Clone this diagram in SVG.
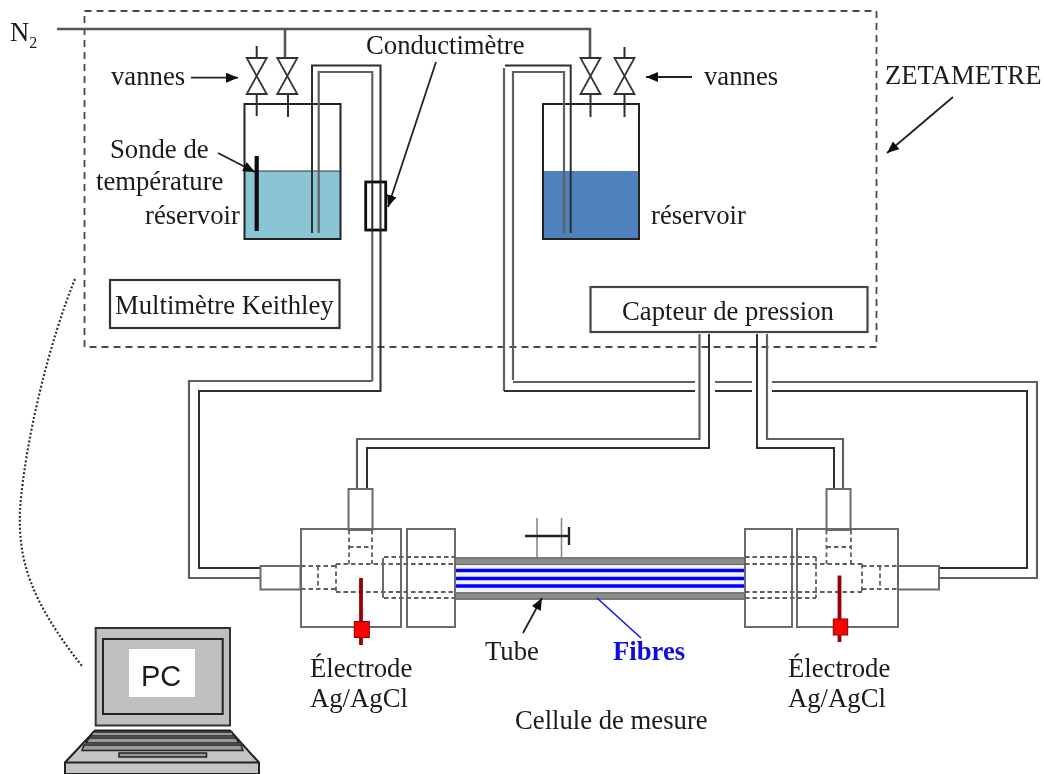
<svg xmlns="http://www.w3.org/2000/svg" width="1044" height="774" viewBox="0 0 1044 774">
<style>
text{font-family:"Liberation Serif","Times New Roman",serif;font-size:26.7px;fill:#1a1a1a}
.l{fill:none;stroke:#2e2e2e;stroke-width:2}
.g{fill:none;stroke:#555;stroke-width:2.6}
.b{fill:none;stroke:#606060;stroke-width:2.2}
.c{fill:none;stroke:#6a6a6a;stroke-width:2}
.d{fill:none;stroke:#606060;stroke-width:1.800;stroke-dasharray:4.500 3}
.k{fill:none;stroke:#222;stroke-width:2}
.v{fill:#fff;stroke:#333;stroke-width:1.800}
.a{fill:none;stroke:#222;stroke-width:1.800;marker-end:url(#ah)}
.blue{fill:none;stroke:#00f;stroke-width:3.400}
.key{fill:#9a9a9a;stroke:#222;stroke-width:1.500}
</style>
<defs>
<marker id="ah" markerUnits="userSpaceOnUse" markerWidth="14" markerHeight="12" refX="12" refY="5" orient="auto"><path d="M0 0L12 5L0 10Z" fill="#111"/></marker>
<path id="valve" class="v" d="M-10 0H10L-10 36H10Z"/>
<filter id="soft" x="-2%" y="-2%" width="104%" height="104%"><feGaussianBlur stdDeviation="0.500"/></filter>
</defs>
<rect width="1044" height="774" fill="#fff"/>
<g filter="url(#soft)">
<g id="zetametre-frame"><rect x="84.500" y="11" width="792" height="336" fill="none" stroke="#4a4a4a" stroke-width="1.800" stroke-dasharray="7 5"/></g>
<g id="reservoir-gauche">
<rect x="244.500" y="171" width="96" height="68" fill="#8AC5D6"/>
<rect x="244.500" y="104" width="96" height="135" class="k"/>
<path d="M244.500 171H340.500" stroke="#333" stroke-width="1"/>
</g>
<g id="reservoir-droit">
<rect x="543" y="171" width="96" height="68" fill="#4F81BD"/>
<rect x="543" y="104" width="96" height="135" class="k"/>
</g>
<g id="sonde"><path d="M256.700 156V231" stroke="#111" stroke-width="4.200" fill="none"/></g>
<g id="connectors">
<path class="g" d="M57 29H590V58"/>
<path class="g" d="M285 30V58"/>
<path class="l" d="M256.700 46V58M256.700 94V116M288 94V117M590.500 94V117M624.500 47V58M624.500 94V117"/>
<path class="l" d="M312 233V65.500H380.500V381"/>
<path class="b" d="M318.700 233V72H372.300V381"/>
<path class="b" d="M372.300 381H189V578H260"/>
<path class="l" d="M380.500 381V391H199V568H260"/>
<path class="l" d="M505 65.500H570.700V233"/>
<path class="b" d="M513 380V72H564V233"/>
<path class="b" d="M504 68V391"/>
<path class="b" d="M513 382H695M715 382H752M772 382H1037V578H940"/>
<path class="l" d="M504 391H695M715 391H752M772 391H1027V568H940"/>
<path class="b" d="M699.500 334V439H357V489"/>
<path class="l" d="M709 334V448H367V489"/>
<path class="l" d="M757 334V448H834V489"/>
<path class="b" d="M767 334V439H843V489"/>
</g>
<g id="valves">
<use href="#valve" x="256.700" y="58"/>
<use href="#valve" x="287.300" y="58"/>
<use href="#valve" x="590.500" y="58"/>
<use href="#valve" x="624.500" y="58"/>
</g>
<g id="conductimetre"><rect x="365.700" y="182" width="20" height="48" fill="#fff" stroke="#111" stroke-width="2.800"/><path class="l" d="M372.300 182V230M380.500 182V230"/></g>
<g id="multimetre"><rect x="110" y="280" width="229.500" height="48" fill="#fff" stroke="#333" stroke-width="2.200"/><text x="115" y="314">Multimètre Keithley</text></g>
<g id="capteur"><rect x="590.500" y="287" width="277" height="45" fill="#fff" stroke="#444" stroke-width="2.200"/><text x="622" y="320">Capteur de pression</text></g>
<g id="cellule">
<rect x="455" y="557" width="290" height="42.500" fill="#f2f2ff"/>
<rect x="455" y="557" width="290" height="8" fill="#8c8c8c"/>
<rect x="455" y="592" width="290" height="8" fill="#8c8c8c"/>
<path d="M455 558H745M455 564.500H745M455 593H745M455 599H745" stroke="#666" stroke-width="1.200"/>
<path class="blue" d="M455 570.500H745M455 578.500H745M455 586H745"/>
<path d="M537 518V557M561.500 518V557" stroke="#8a8a8a" stroke-width="1.600" fill="none"/>
<path d="M525 536H569M569 527V545" stroke="#222" stroke-width="2.400" fill="none"/>
</g>
<g id="raccord-gauche">
<rect x="301" y="529" width="100" height="98" class="c"/>
<rect x="407" y="529" width="48" height="98" class="c"/>
<rect x="348.500" y="489" width="24" height="41" class="c"/>
<rect x="260.500" y="566" width="40" height="23.500" class="c"/>
<path class="d" d="M349 530V564M372 530V564M349 547H372M301 566H336M301 589H336M301 566V589M318 566V589M336 564V592M336 564H455M336 592H455M384 557H455M384 598H455"/>
<path class="c" d="M383 558V598"/>
<path d="M361 578V645" stroke="#9a0000" stroke-width="3.800" fill="none"/>
<rect x="354.300" y="621.500" width="15" height="16" fill="#f00" stroke="#800" stroke-width="1"/>
</g>
<g id="raccord-droit">
<rect x="745" y="529" width="47" height="98" class="c"/>
<rect x="797" y="529" width="101" height="98" class="c"/>
<rect x="826.500" y="489" width="24" height="41" class="c"/>
<rect x="898" y="566" width="41" height="23.500" class="c"/>
<path class="d" d="M826.500 530V564M851 530V564M826.500 547H851M745 557H816M745 598H816M816 557V598M745 564H862M745 592H862M862 564V592M862 566H898M862 589H898M880 566V589M898 566V589"/>
<path d="M839.500 575.500V642" stroke="#9a0000" stroke-width="3.800" fill="none"/>
<rect x="833.300" y="619" width="14.400" height="16" fill="#f00" stroke="#800" stroke-width="1"/>
</g>
<g id="pc">
<path d="M75 279C50 340 25 440 20 510C18 560 30 600 82 666" fill="none" stroke="#333" stroke-width="2.200" stroke-dasharray="2 2"/>
<rect x="95.700" y="628" width="134.300" height="97.500" fill="#bfbfbf" stroke="#333" stroke-width="2"/>
<rect x="103" y="639" width="119.700" height="75" fill="#bfbfbf" stroke="#222" stroke-width="2"/>
<rect x="129" y="649" width="66" height="48" fill="#fff"/>
<text x="141" y="686" style="font-family:'Liberation Sans',Arial,sans-serif;font-size:29px">PC</text>
<path d="M95 730.500H230L259 762.500V774H65V762.500Z" fill="#c4c4c4" stroke="#222" stroke-width="2"/>
<path d="M65 762.500H259" stroke="#222" stroke-width="2"/>
<path class="key" d="M93 732H232L234 736H91Z"/>
<path class="key" d="M89 738H236L239 743H86Z"/>
<path class="key" d="M84 745H241L243 750.500H82Z"/>
<rect x="119" y="753" width="87.500" height="4" class="key"/>
</g>
<g id="labels">
<text x="10" y="41">N<tspan dy="7" font-size="16">2</tspan></text>
<text x="111" y="85">vannes</text>
<path class="a" d="M191 77.700H238"/>
<text x="704" y="85">vannes</text>
<path class="a" d="M692 77H646"/>
<text x="366" y="54">Conductimètre</text>
<path class="a" d="M436 62L388 207"/>
<text x="110" y="158">Sonde de</text>
<text x="96" y="190">température</text>
<text x="145" y="224">réservoir</text>
<path class="a" d="M218 153L255 172"/>
<text x="651" y="224">réservoir</text>
<text x="885" y="84">ZETAMETRE</text>
<path class="a" d="M953 97L887 153"/>
<text x="310" y="677">Électrode</text>
<text x="310" y="707">Ag/AgCl</text>
<text x="788" y="677">Électrode</text>
<text x="788" y="707">Ag/AgCl</text>
<text x="485" y="660">Tube</text>
<path class="a" d="M523 633L542 598"/>
<text x="613" y="660" style="fill:#1010e0;font-weight:bold">Fibres</text>
<path d="M597 598L641 638" stroke="#1a1ae6" stroke-width="1.600" fill="none"/>
<text x="515" y="729">Cellule de mesure</text>
</g>
</g>
</svg>
